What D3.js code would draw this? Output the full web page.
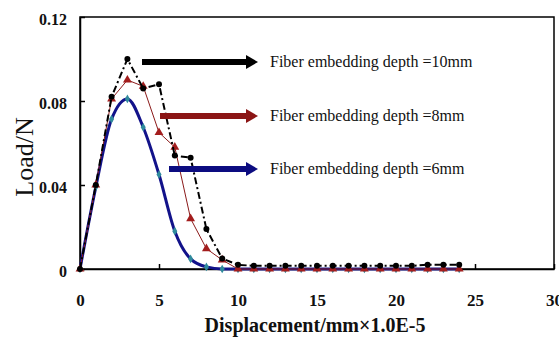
<!DOCTYPE html>
<html>
<head>
<meta charset="utf-8">
<script src="https://cdn.jsdelivr.net/npm/d3@7"></script>
<style>
  body { margin: 0; background: #fff; }
  svg { display: block; }
  text { font-family: "Liberation Serif", "Times New Roman", serif; fill: #111; }
  .axis text { font-weight: bold; font-size: 16px; }
  .axis path, .axis line { stroke: #000; stroke-width: 1.5; }
</style>
</head>
<body>
<svg id="chart"></svg>
<script>
// displacement (x 1.0E-5 mm)
var displacement = [0, 1, 2, 3, 4, 5, 6, 7, 8, 9, 10, 11, 12, 13, 14, 15, 16, 17, 18, 19, 20, 21, 22, 23, 24];
// load (N) for each embedding depth
var load10 = [0, 0.040, 0.082, 0.100, 0.086, 0.088, 0.054, 0.053, 0.019, 0.005, 0.002, 0.0015, 0.0015, 0.0015, 0.0015, 0.0015, 0.0015, 0.0015, 0.0015, 0.0015, 0.0015, 0.0015, 0.002, 0.002, 0.002];
var load8 = [0, 0.040, 0.081, 0.090, 0.087, 0.065, 0.058, 0.024, 0.0097, 0.0043, 0, 0, 0, 0, 0, 0, 0, 0, 0, 0, 0, 0, 0, 0, 0];
var load6 = [0, 0.039, 0.0714, 0.081, 0.0675, 0.045, 0.018, 0.0048, 0.001, 0, 0, 0, 0, 0, 0, 0, 0, 0, 0, 0, 0, 0, 0, 0, 0];
var seriesNames = ["Fiber embedding depth =10mm", "Fiber embedding depth =8mm", "Fiber embedding depth =6mm"];
var xTicks = [0, 5, 10, 15, 20, 25, 30];
var yTicks = [0, 0.04, 0.08, 0.12];

var width = 559, height = 343;
var margin = {left: 80, right: 5, top: 17, bottom: 74};

var svg = d3.select("#chart").attr("width", width).attr("height", height);

var x = d3.scaleLinear().domain([0, 30]).range([margin.left, width - margin.right]);
var y = d3.scaleLinear().domain([0, 0.12]).range([height - margin.bottom, margin.top]);

// frame
svg.append("rect")
    .attr("x", x(0)).attr("y", y(0.12))
    .attr("width", x(30) - x(0)).attr("height", y(0) - y(0.12))
    .attr("fill", "none").attr("stroke", "#000").attr("stroke-width", 1.5);

var xAxis = d3.axisBottom(x).tickValues(xTicks).tickFormat(d3.format("d"))
    .tickSizeInner(-5).tickSizeOuter(0).tickPadding(25);
var gx = svg.append("g").attr("class", "axis")
    .attr("transform", "translate(0," + y(0) + ")")
    .call(xAxis);
gx.selectAll(".tick text").style("font-size", "17px");

var yAxis = d3.axisLeft(y).tickValues(yTicks)
    .tickFormat(function(d) { return d === 0 ? "0" : d3.format(".2f")(d); })
    .tickSizeInner(-5).tickSizeOuter(0).tickPadding(13);
var gy = svg.append("g").attr("class", "axis")
    .attr("transform", "translate(" + x(0) + ",0)")
    .call(yAxis);
gy.selectAll(".tick text").attr("dy", "0.45em");

// axis titles
svg.append("text")
    .attr("x", (x(0) + x(30)) / 2 - 2).attr("y", 332)
    .attr("text-anchor", "middle")
    .style("font-weight", "bold").style("font-size", "20px")
    .text("Displacement/mm\u00d71.0E-5");

svg.append("text")
    .attr("transform", "translate(33,157) rotate(-90)")
    .attr("text-anchor", "middle")
    .style("font-size", "26px")
    .text("Load/N");

function rows(vals) {
    return displacement.map(function(d, i) { return {x: d, y: vals[i]}; });
}

var lineLinear = d3.line().x(function(d) { return x(d.x); }).y(function(d) { return y(d.y); });
var lineSmooth = d3.line().curve(d3.curveMonotoneX).x(function(d) { return x(d.x); }).y(function(d) { return y(d.y); });

// 6mm
var d6 = rows(load6);
svg.append("path").datum(d6).attr("d", lineSmooth)
    .attr("fill", "none").attr("stroke", "#12128a").attr("stroke-width", 3);
svg.append("g").selectAll("path").data(d6).enter().append("path")
    .attr("d", d3.symbol().type(d3.symbolDiamond).size(22))
    .attr("transform", function(d) { return "translate(" + x(d.x) + "," + y(d.y) + ")"; })
    .attr("fill", "#2f8a9c");

// 8mm
var d8 = rows(load8);
svg.append("path").datum(d8).attr("d", lineLinear)
    .attr("fill", "none").attr("stroke", "#8b1a1a").attr("stroke-width", 1);
svg.append("g").selectAll("path").data(d8).enter().append("path")
    .attr("d", d3.symbol().type(d3.symbolTriangle).size(34))
    .attr("transform", function(d) { return "translate(" + x(d.x) + "," + y(d.y) + ")"; })
    .attr("fill", "#a31d1d");

// 10mm
var d10 = rows(load10);
svg.append("path").datum(d10).attr("d", lineLinear)
    .attr("fill", "none").attr("stroke", "#000").attr("stroke-width", 2)
    .attr("stroke-dasharray", "7,3,2,3");
svg.append("g").selectAll("circle").data(d10).enter().append("circle")
    .attr("cx", function(d) { return x(d.x); })
    .attr("cy", function(d) { return y(d.y); })
    .attr("r", 3).attr("fill", "#000");

// legend arrows
var arrowColors = ["#000", "#8b1515", "#0c0c80"];
var arrowStart = [142, 160, 169];
var arrowRowY = [62, 116, 169];
var arrowTip = 258, textX = 270;

var leg = svg.append("g").selectAll("g").data(seriesNames).enter().append("g");
leg.append("line")
    .attr("x1", function(d, i) { return arrowStart[i]; })
    .attr("x2", arrowTip - 10)
    .attr("y1", function(d, i) { return arrowRowY[i]; })
    .attr("y2", function(d, i) { return arrowRowY[i]; })
    .attr("stroke", function(d, i) { return arrowColors[i]; })
    .attr("stroke-width", 6);
leg.append("path")
    .attr("d", function(d, i) {
        var yy = arrowRowY[i];
        return "M" + (arrowTip - 12) + "," + (yy - 7) + "L" + arrowTip + "," + yy + "L" + (arrowTip - 12) + "," + (yy + 7) + "Z";
    })
    .attr("fill", function(d, i) { return arrowColors[i]; });
leg.append("text")
    .attr("x", textX)
    .attr("y", function(d, i) { return arrowRowY[i] + 5; })
    .style("font-size", "16px")
    .text(function(d) { return d; });
</script>
</body>
</html>
